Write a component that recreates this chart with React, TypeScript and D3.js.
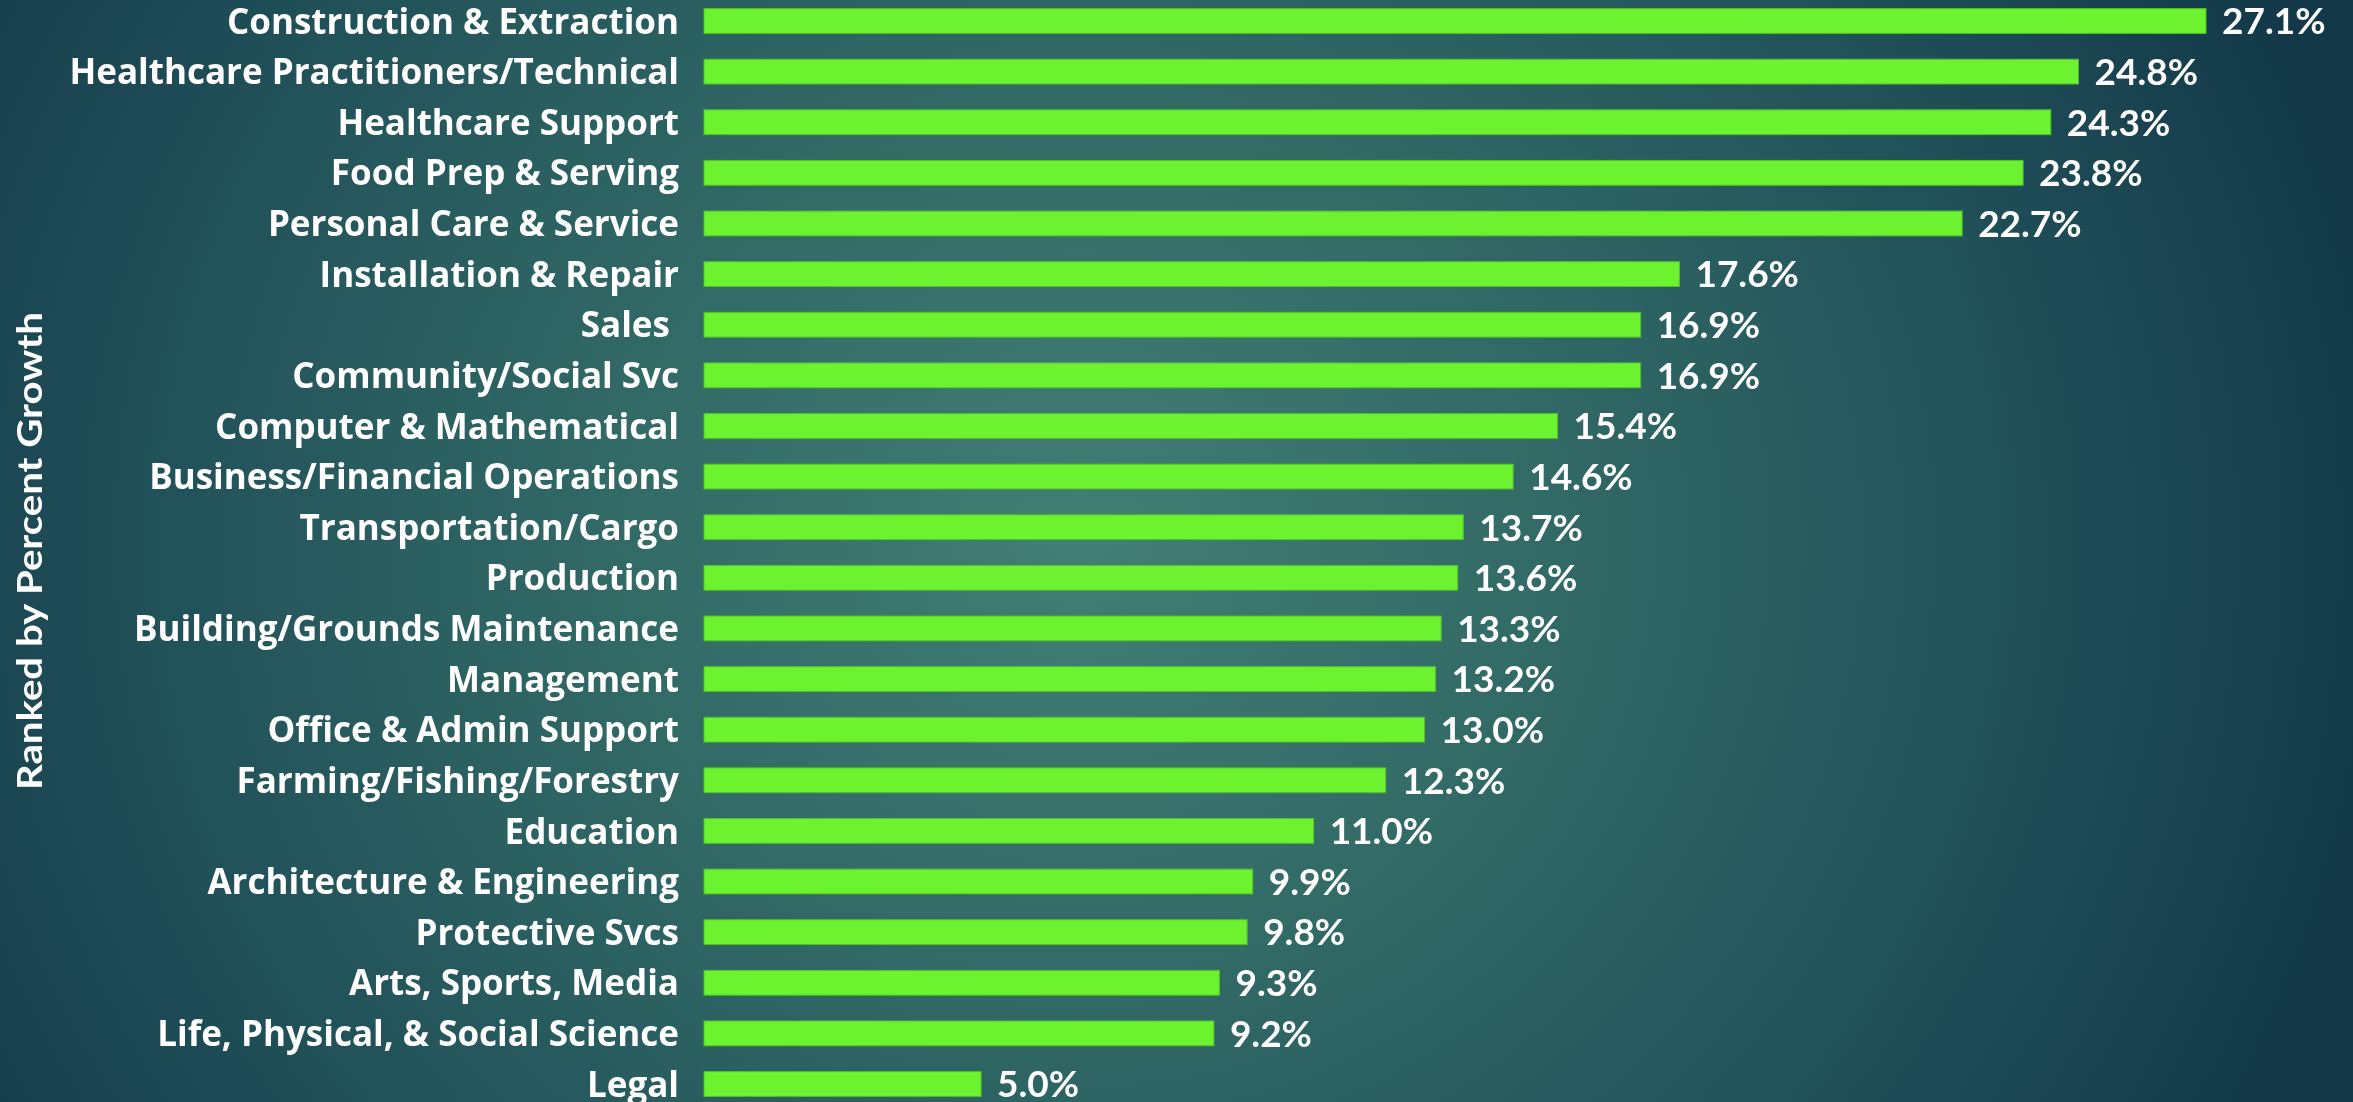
import React from "react";
import * as d3 from "d3";

const categories = [
  "Construction & Extraction",
  "Healthcare Practitioners/Technical",
  "Healthcare Support",
  "Food Prep & Serving",
  "Personal Care & Service",
  "Installation & Repair",
  "Sales ",
  "Community/Social Svc",
  "Computer & Mathematical",
  "Business/Financial Operations",
  "Transportation/Cargo",
  "Production",
  "Building/Grounds Maintenance",
  "Management",
  "Office & Admin Support",
  "Farming/Fishing/Forestry",
  "Education",
  "Architecture & Engineering",
  "Protective Svcs",
  "Arts, Sports, Media",
  "Life, Physical, & Social Science",
  "Legal",
];

const growth = [
  27.1, 24.8, 24.3, 23.8, 22.7, 17.6, 16.9, 16.9, 15.4, 14.6, 13.7, 13.6, 13.3,
  13.2, 13.0, 12.3, 11.0, 9.9, 9.8, 9.3, 9.2, 5.0,
];

const axisTitle = "Ranked by Percent Growth";

const W = 2353;
const H = 1102;

export default function App() {
  const x = d3.scaleLinear().domain([0, 27.1]).range([704, 2206]);
  const y = d3.scalePoint<string>().domain(categories.map((c, i) => i + "")).range([21, 1084]);
  const step = y.step();
  const barH = step * 0.49;
  const fmt = (v: number) => d3.format(".1f")(v) + "%";

  return (
    <svg
      width={W}
      height={H}
      style={{ position: "fixed", left: 0, top: 0, display: "block" }}
      viewBox={`0 0 ${W} ${H}`}
    >
      <defs>
        <radialGradient
          id="bg"
          gradientUnits="userSpaceOnUse"
          cx={1080}
          cy={540}
          r={1320}
          gradientTransform="translate(1080 540) scale(1 0.95) translate(-1080 -540)"
        >
          <stop offset="0" stopColor="#427f74" />
          <stop offset="0.35" stopColor="#326a66" />
          <stop offset="0.7" stopColor="#215159" />
          <stop offset="1" stopColor="#133949" />
        </radialGradient>
      </defs>
      <rect x={0} y={0} width={W} height={H} fill="url(#bg)" />
      <text
        transform={`translate(42, 551) rotate(-90)`}
        textAnchor="middle"
        fill="#ffffff"
        fontFamily="Lato, 'Open Sans', sans-serif"
        fontWeight="bold"
        fontSize={34}
        textLength={478}
        lengthAdjust="spacingAndGlyphs"
      >
        {axisTitle}
      </text>
      {categories.map((c, i) => {
        const cy = y(i + "") as number;
        const v = growth[i];
        return (
          <g key={i}>
            <rect
              x={x(0)}
              y={cy - barH / 2}
              width={x(v) - x(0)}
              height={barH}
              fill="#6df230"
              stroke="#52c02a"
              strokeWidth={1}
            />
            <text
              x={679}
              y={cy}
              dy="0.36em"
              textAnchor="end"
              fill="#ffffff"
              fontFamily="'Open Sans', Lato, sans-serif"
              fontWeight="bold"
              fontSize={35}
              style={{ whiteSpace: "pre" }}
            >
              {c}
            </text>
            <text
              x={x(v) + 16}
              y={cy}
              dy="0.36em"
              textAnchor="start"
              fill="#ffffff"
              fontFamily="Lato, 'Open Sans', sans-serif"
              fontWeight="bold"
              fontSize={37}
            >
              {fmt(v)}
            </text>
          </g>
        );
      })}
    </svg>
  );
}
